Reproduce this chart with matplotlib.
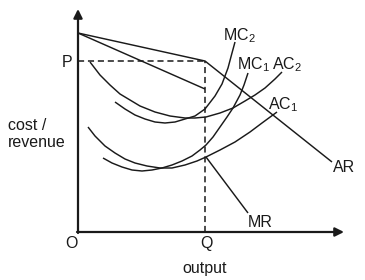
import matplotlib
matplotlib.use("Agg")
import matplotlib.pyplot as plt

plt.rcParams['font.family'] = 'Liberation Sans'
plt.rcParams['mathtext.fontset'] = 'custom'
plt.rcParams['mathtext.rm'] = 'Liberation Sans'
plt.rcParams['mathtext.it'] = 'Liberation Sans'

# key levels
Q = 127
P = 171

# demand (AR) and marginal revenue, kinked at Q
ar_x = [0, 127, 254]
ar_y = [199, 171, 70]
mr_top_x = [0, 127]
mr_top_y = [199, 143]
mr_low_x = [128, 170]
mr_low_y = [75, 19]

# cost curves
ac2_x = [12, 22, 32, 42, 52, 62, 77, 92, 107, 117, 128, 142, 155, 167, 177, 187, 197, 204]
ac2_y = [170, 157, 147, 138, 132, 126, 120, 116, 114, 114, 115, 119, 124, 131, 137, 144, 153, 160]
mc2_x = [37, 47, 57, 67, 77, 87, 97, 107, 117, 127, 137, 144, 150, 154, 157]
mc2_y = [130, 123, 117, 113, 110, 109, 110, 113, 116, 123, 136, 148, 164, 179, 190]
ac1_x = [10, 17, 27, 37, 47, 57, 69, 82, 94, 107, 119, 128, 142, 157, 172, 184, 199]
ac1_y = [105, 96, 86, 79, 73, 69, 66, 64, 64, 67, 71, 75, 82, 90, 100, 109, 120]
mc1_x = [25, 34, 44, 54, 64, 74, 84, 94, 104, 114, 122, 128, 135, 142, 149, 155, 162, 166, 170]
mc1_y = [74, 69, 65, 62, 61, 62, 64, 67, 71, 76, 82, 87, 95, 105, 115, 124, 137, 147, 159]

ink = '#1a1a1a'
fig = plt.figure(figsize=(3.65, 2.8), dpi=100)
ax = fig.add_axes([0, 0, 1, 1])
ax.set_xlim(-78, 287)
ax.set_ylim(-48, 232)
ax.axis('off')

# axes with arrows
ax.annotate('', xy=(0, 223), xytext=(0, -1),
            arrowprops=dict(arrowstyle='-|>', lw=1.6, color=ink, mutation_scale=13, shrinkA=0, shrinkB=0))
ax.annotate('', xy=(266, 0), xytext=(-1, 0),
            arrowprops=dict(arrowstyle='-|>', lw=1.6, color=ink, mutation_scale=13, shrinkA=0, shrinkB=0))

# dashed P and Q guides
ax.plot([0, Q], [P, P], ls=(0, (4, 2.5)), lw=1.1, color=ink)
ax.plot([Q, Q], [0, P], ls=(0, (4, 2.5)), lw=1.1, color=ink)

lw = 1.05
for xs, ys in [(ar_x, ar_y), (mr_top_x, mr_top_y), (mr_low_x, mr_low_y),
               (ac2_x, ac2_y), (mc2_x, mc2_y), (ac1_x, ac1_y), (mc1_x, mc1_y)]:
    ax.plot(xs, ys, color=ink, lw=lw, solid_joinstyle='round', solid_capstyle='butt')

fs = 11.5
labels = [
    (r'MC$_{\rm 2}$', 145, 192),
    (r'MC$_{\rm 1}$', 159, 162.5),
    (r'AC$_{\rm 2}$', 194, 162.5),
    (r'AC$_{\rm 1}$', 190, 123),
    ('AR', 255, 60),
    ('MR', 170, 5),
    ('P', -16, 165),
    ('O', -13, -16),
    ('Q', 122, -16),
    ('cost /', -70, 102),
    ('revenue', -70, 85),
]
for s, x, y in labels:
    ax.text(x, y, s, fontsize=fs, color=ink, ha='left', va='baseline')
ax.text(127, -41, 'output', fontsize=fs, color=ink, ha='center', va='baseline')

fig.savefig('out.png', dpi=100)
